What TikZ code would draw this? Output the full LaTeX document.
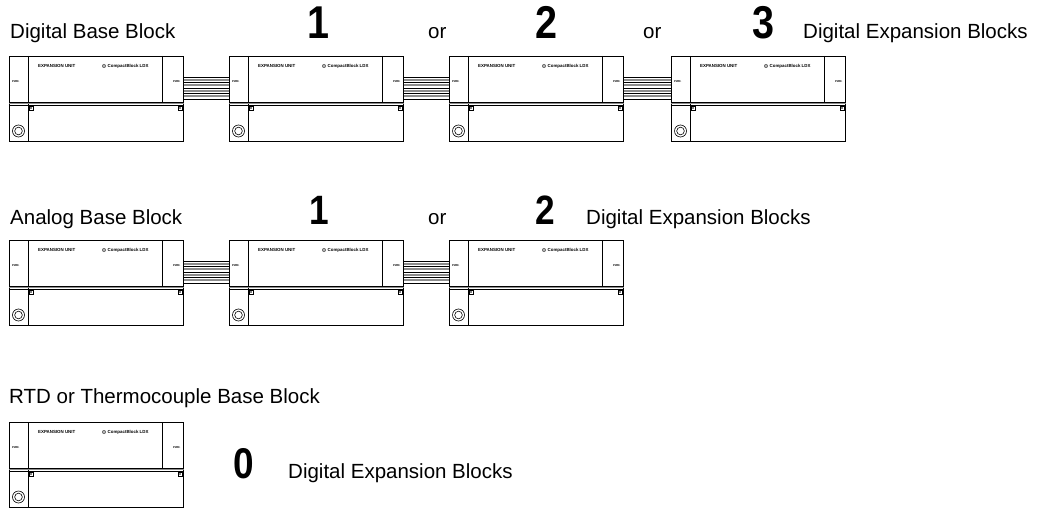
\documentclass[tikz,border=0pt]{standalone}
\usepackage{fontspec}
\setmainfont{Liberation Sans}
\usetikzlibrary{calc}
\tikzset{
  blk/.style={draw, line width=0.9pt, minimum width=174pt, minimum height=85pt, inner sep=0pt, anchor=north west},
  edgeline/.style={line width=0.6pt},
  tinytxt/.style={font=\fontsize{4.4}{5}\selectfont\bfseries, inner sep=0pt, anchor=west},
  pwrtxt/.style={font=\fontsize{2.8}{3}\selectfont\bfseries, inner sep=0pt, anchor=west},
  lbl/.style={font=\fontsize{20.5}{22}\selectfont, inner sep=0pt, anchor=base west},
  bignum/.style={font=\fontsize{#1}{#1}\selectfont\bfseries, inner sep=0pt, anchor=base, xscale=0.86},
  cblack/.style={line width=0.6pt, black},
  cgray/.style={line width=1.6pt, black!45},
}
\newcommand\cblock[3]{%
  \node[blk] (#1) at (#2,#3) {};
  \draw[edgeline] ([shift={(19,0)}]#1.north west) -- ([shift={(19,85)}]#1.north west);
  \draw[edgeline] ([shift={(153,0)}]#1.north west) -- ([shift={(153,46)}]#1.north west);
  \draw[line width=0.9pt] ([shift={(0,46)}]#1.north west) -- ([shift={(0,46)}]#1.north east);
  \draw[black!45, line width=1.2pt] ([shift={(0,47.5)}]#1.north west) -- ([shift={(0,47.5)}]#1.north east);
  \draw[edgeline] ([shift={(0,49)}]#1.north west) -- ([shift={(0,49)}]#1.north east);
  \draw[line width=0.4pt] ([shift={(20,50)}]#1.north west) rectangle ([shift={(24,54)}]#1.north west);
  \fill ([shift={(22,52)}]#1.north west) circle (0.8);
  \draw[line width=0.4pt] ([shift={(169,50)}]#1.north west) rectangle ([shift={(173,54)}]#1.north west);
  \fill ([shift={(171,52)}]#1.north west) circle (0.8);
  \draw[edgeline] ([shift={(9.5,75)}]#1.north west) circle (6);
  \draw[edgeline] ([shift={(9.5,75)}]#1.north west) circle (3.8);
  \node[tinytxt] (#1-eu) at ([shift={(29,10)}]#1.north west) {EXPANSION UNIT};
  \fill[black!60] ([shift={(95,10)}]#1.north west) circle (2);
  \fill[white] ([shift={(95,10)}]#1.north west) circle (0.8);
  \node[tinytxt] (#1-cb) at ([shift={(98.5,10)}]#1.north west) {CompactBlock LDX};
  \node[pwrtxt] (#1-pl) at ([shift={(3,26)}]#1.north west) {PWR.};
  \node[pwrtxt] (#1-pr) at ([shift={(164,26)}]#1.north west) {PWR.};
}
\newcommand\cable[2]{%
  \foreach \yy in {23.75,29.25,34.75,40.25}{
    \draw[cgray] ([shift={(0,\yy)}]#1.north east) -- ([shift={(0,\yy)}]#2.north west);
  }
  \foreach \yy in {21,26.5,32,37.5,43}{
    \draw[cblack] ([shift={(0,\yy)}]#1.north east) -- ([shift={(0,\yy)}]#2.north west);
  }
}
\begin{document}
\begin{tikzpicture}[x=1pt,y=-1pt]
\useasboundingbox[fill=white] (0,0) rectangle (1040,508);

% Row 1
\node[lbl] (t1) at (10,39) {Digital Base Block};
\node[bignum=46] (n11) at (318.5,39) {1};
\node[lbl] (or11) at (428,39) {or};
\node[bignum=46] (n12) at (546,39) {2};
\node[lbl] (or12) at (643,39) {or};
\node[bignum=46] (n13) at (763,39) {3};
\node[lbl] (d1) at (803,39) {Digital Expansion Blocks};
\cblock{b1}{9}{56}
\cblock{b2}{229}{56}
\cblock{b3}{449}{56}
\cblock{b4}{671}{56}
\cable{b1}{b2}
\cable{b2}{b3}
\cable{b3}{b4}

% Row 2
\node[lbl] (t2) at (10,224) {Analog Base Block};
\node[bignum=41] (n21) at (319.5,224) {1};
\node[lbl] (or21) at (428,224) {or};
\node[bignum=41] (n22) at (545.5,224) {2};
\node[lbl] (d2) at (586,224) {Digital Expansion Blocks};
\cblock{a1}{9}{240}
\cblock{a2}{229}{240}
\cblock{a3}{449}{240}
\cable{a1}{a2}
\cable{a2}{a3}

% Row 3
\node[lbl] (t3) at (9,403) {RTD or Thermocouple Base Block};
\cblock{r1}{9}{422}
\node[bignum=43] (n31) at (244,478) {0};
\node[lbl] (d3) at (288,478) {Digital Expansion Blocks};
\end{tikzpicture}
\end{document}
